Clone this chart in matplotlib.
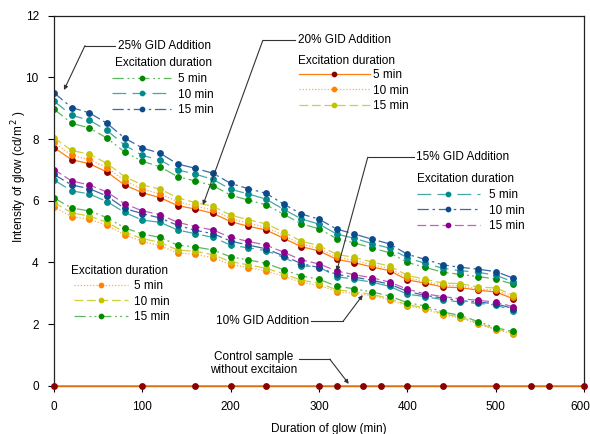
import matplotlib.pyplot as plt
from matplotlib.transforms import ScaledTranslation

plt.rcParams['font.family'] = ['Liberation Sans', 'DejaVu Sans']
plt.rcParams['font.size'] = 8.5

W, H = 590, 434

# ---- data ----
time_min = [0, 20, 40, 60, 80, 100, 120, 140, 160, 180, 200, 220, 240, 260,
            280, 300, 320, 340, 360, 380, 400, 420, 440, 460, 480, 500, 520]

gid25_5 = [8.97, 8.51, 8.36, 8.03, 7.58, 7.28, 7.10, 6.78, 6.64, 6.49, 6.18, 6.02, 5.87, 5.56,
           5.25, 5.09, 4.77, 4.63, 4.47, 4.31, 4.00, 3.84, 3.68, 3.61, 3.54, 3.46, 3.29]
gid25_10 = [9.23, 8.77, 8.61, 8.28, 7.80, 7.47, 7.32, 7.00, 6.86, 6.69, 6.37, 6.22, 6.05, 5.72,
            5.41, 5.24, 4.92, 4.78, 4.61, 4.46, 4.15, 3.97, 3.81, 3.73, 3.68, 3.58, 3.37]
gid25_15 = [9.50, 9.02, 8.85, 8.51, 8.03, 7.71, 7.54, 7.19, 7.05, 6.89, 6.56, 6.39, 6.24, 5.89,
            5.57, 5.40, 5.08, 4.92, 4.75, 4.60, 4.26, 4.10, 3.92, 3.84, 3.78, 3.70, 3.49]

gid20_5 = [7.72, 7.33, 7.20, 6.93, 6.51, 6.26, 6.10, 5.84, 5.73, 5.59, 5.32, 5.17, 5.05, 4.78,
           4.51, 4.37, 4.10, 3.99, 3.85, 3.73, 3.43, 3.33, 3.20, 3.18, 3.10, 3.04, 2.82]
gid20_10 = [7.89, 7.47, 7.34, 7.07, 6.65, 6.37, 6.22, 5.97, 5.82, 5.70, 5.42, 5.27, 5.14, 4.87,
            4.59, 4.45, 4.17, 4.07, 3.92, 3.80, 3.50, 3.38, 3.26, 3.24, 3.14, 3.10, 2.88]
gid20_15 = [8.04, 7.63, 7.51, 7.21, 6.78, 6.51, 6.38, 6.09, 5.94, 5.82, 5.53, 5.38, 5.25, 4.98,
            4.69, 4.54, 4.26, 4.16, 4.01, 3.88, 3.58, 3.45, 3.33, 3.31, 3.20, 3.17, 2.94]

gid15_5 = [6.67, 6.32, 6.22, 5.97, 5.62, 5.37, 5.30, 5.05, 4.93, 4.81, 4.56, 4.47, 4.38, 4.16,
           3.89, 3.85, 3.54, 3.45, 3.36, 3.22, 2.97, 2.89, 2.79, 2.71, 2.67, 2.62, 2.43]
gid15_10 = [6.85, 6.51, 6.39, 6.15, 5.75, 5.58, 5.44, 5.20, 5.04, 4.93, 4.69, 4.56, 4.44, 4.21,
            3.96, 3.83, 3.61, 3.52, 3.42, 3.29, 3.06, 2.93, 2.84, 2.76, 2.71, 2.66, 2.50]
gid15_15 = [7.01, 6.64, 6.51, 6.28, 5.90, 5.67, 5.55, 5.30, 5.16, 5.05, 4.81, 4.68, 4.56, 4.33,
            4.08, 3.95, 3.72, 3.60, 3.50, 3.36, 3.13, 2.98, 2.89, 2.82, 2.77, 2.71, 2.56]

gid10_5 = [5.80, 5.48, 5.40, 5.20, 4.89, 4.68, 4.54, 4.31, 4.26, 4.15, 3.93, 3.83, 3.72, 3.55,
           3.35, 3.26, 3.05, 3.00, 2.92, 2.79, 2.58, 2.49, 2.30, 2.20, 2.00, 1.81, 1.69]
gid10_10 = [5.94, 5.61, 5.50, 5.30, 4.98, 4.77, 4.65, 4.40, 4.36, 4.25, 4.02, 3.92, 3.81, 3.63,
            3.42, 3.33, 3.11, 3.05, 2.96, 2.83, 2.62, 2.53, 2.33, 2.23, 2.03, 1.84, 1.72]
gid10_15 = [6.09, 5.76, 5.67, 5.45, 5.12, 4.92, 4.81, 4.56, 4.50, 4.40, 4.18, 4.08, 3.97, 3.76,
            3.56, 3.45, 3.23, 3.14, 3.04, 2.91, 2.69, 2.59, 2.39, 2.28, 2.08, 1.88, 1.76]

control_time = [0, 100, 160, 200, 240, 300, 320, 350, 370, 400, 440, 500, 540, 560, 600]
control_glow = [0, 0, 0, 0, 0, 0, 0, 0, 0, 0, 0, 0, 0, 0, 0]

duration_labels = ["5 min", "10 min", "15 min"]

# ---- styles ----
DDOT = (0, (9, 3, 1.5, 2.5, 1.5, 3))
LDASH = (0, (11, 5))
DDASH = (0, (9, 3, 2, 3))
DASH = (0, (7, 3))
DOT = (0, (1, 1.5))

green = ("#5cb85c", "#008a00")
teal = ("#44a8a8", "#008b8b")
blue = ("#3a6aa8", "#0b4a8b")
dred = ("#ff7f0e", "#8b0000")
orange = ("#ffaa55", "#ff8200")
yellow = ("#cfcf40", "#c2c200")
purple = ("#c060c0", "#8b008b")

fig = plt.figure(figsize=(W / 100, H / 100), dpi=100)
ax = fig.add_axes([54 / W, 1 - 385.7 / H, 530 / W, 370 / H])


def draw(y, colors, ls):
    line, = ax.plot(time_min, y, color=colors[0], ls=ls, lw=0.9,
                    marker="o", ms=3.9, mfc=colors[1], mec=colors[1])
    return line


g25 = [draw(gid25_5, green, DDOT), draw(gid25_10, teal, LDASH), draw(gid25_15, blue, DDASH)]
g20 = [draw(gid20_5, dred, "-"), draw(gid20_10, orange, DOT), draw(gid20_15, yellow, DASH)]
g15 = [draw(gid15_5, teal, LDASH), draw(gid15_10, blue, DDASH), draw(gid15_15, purple, DASH)]
g10 = [draw(gid10_5, orange, DOT), draw(gid10_10, yellow, DASH), draw(gid10_15, green, DDOT)]

ax.plot(control_time, control_glow, color="#ff7f0e", lw=1.2, marker="o", ms=3.9,
        mfc="#8b0000", mec="#8b0000", clip_on=False, zorder=5)

ax.set_xlim(0, 600)
ax.set_ylim(0, 12)
ax.set_xticks(range(0, 601, 100))
ax.set_yticks(range(0, 13, 2))
ax.tick_params(direction="out", length=4, width=0.8, pad=7, labelsize=8.5)
for s in ax.spines.values():
    s.set_linewidth(0.9)
    s.set_color("#222222")

# keep the last x tick label inside the picture
last = ax.get_xticklabels()[-1]
last.set_transform(last.get_transform() + ScaledTranslation(-4 / 100, 0, fig.dpi_scale_trans))

ax.set_xlabel("Duration of glow (min)", fontsize=8.5)
ax.xaxis.set_label_coords(0.519, -0.1)
ax.set_ylabel(r"Intensity of glow (cd/m$^{\,2}$ )", fontsize=8.5)
ax.yaxis.set_label_coords(-0.047, 0.565)


def group_legend(handles, px, py, hlen, pad):
    fig.legend(handles, duration_labels, loc="upper left",
               bbox_to_anchor=(px / W, 1 - py / H), frameon=False,
               borderpad=0, borderaxespad=0, handlelength=hlen,
               handletextpad=pad, labelspacing=0.3, fontsize=8.5,
               markerscale=0.8, numpoints=1)


group_legend(g25, 112, 73, 5.0, 0.55)
group_legend(g20, 299, 69, 6.0, 0.3)
group_legend(g15, 417, 189, 5.3, 0.8)
group_legend(g10, 74, 280, 4.6, 0.5)

fig.text(115 / W, 1 - 62.7 / H, "Excitation duration", va="center", fontsize=8.5)
fig.text(298 / W, 1 - 60.7 / H, "Excitation duration", va="center", fontsize=8.5)
fig.text(416.7 / W, 1 - 178.7 / H, "Excitation duration", va="center", fontsize=8.5)
fig.text(71 / W, 1 - 271 / H, "Excitation duration", va="center", fontsize=8.5)


def callout(label, text_xy, corner, target, ha="left", **kw):
    ax.text(*text_xy, label, ha=ha, va="center", fontsize=8.5, **kw)
    ax.plot([corner[0], text_xy[0] + (-3 if ha == "left" else 3)], [corner[1], corner[1]],
            color="#333333", lw=0.8, clip_on=False)
    ax.annotate("", xy=target, xytext=corner,
                arrowprops=dict(arrowstyle="-|>", color="#333333", lw=0.8,
                                mutation_scale=6, shrinkA=0, shrinkB=0))


callout("25% GID Addition", (72.4, 11.03), (35.1, 11.03), (11.3, 9.59))
callout("20% GID Addition", (276, 11.2), (236.4, 11.2), (168.6, 5.86))
callout("15% GID Addition", (410.3, 7.41), (355.2, 7.41), (320.1, 3.72))
callout("10% GID Addition", (288.5, 2.09), (327.3, 2.09), (349.5, 2.94), ha="right")
callout("Control sample\nwithout excitaion", (274.9, 0.72), (312.2, 0.86), (333.7, 0.06),
        ha="right", multialignment="center")

fig.savefig("out.png", dpi=100)
